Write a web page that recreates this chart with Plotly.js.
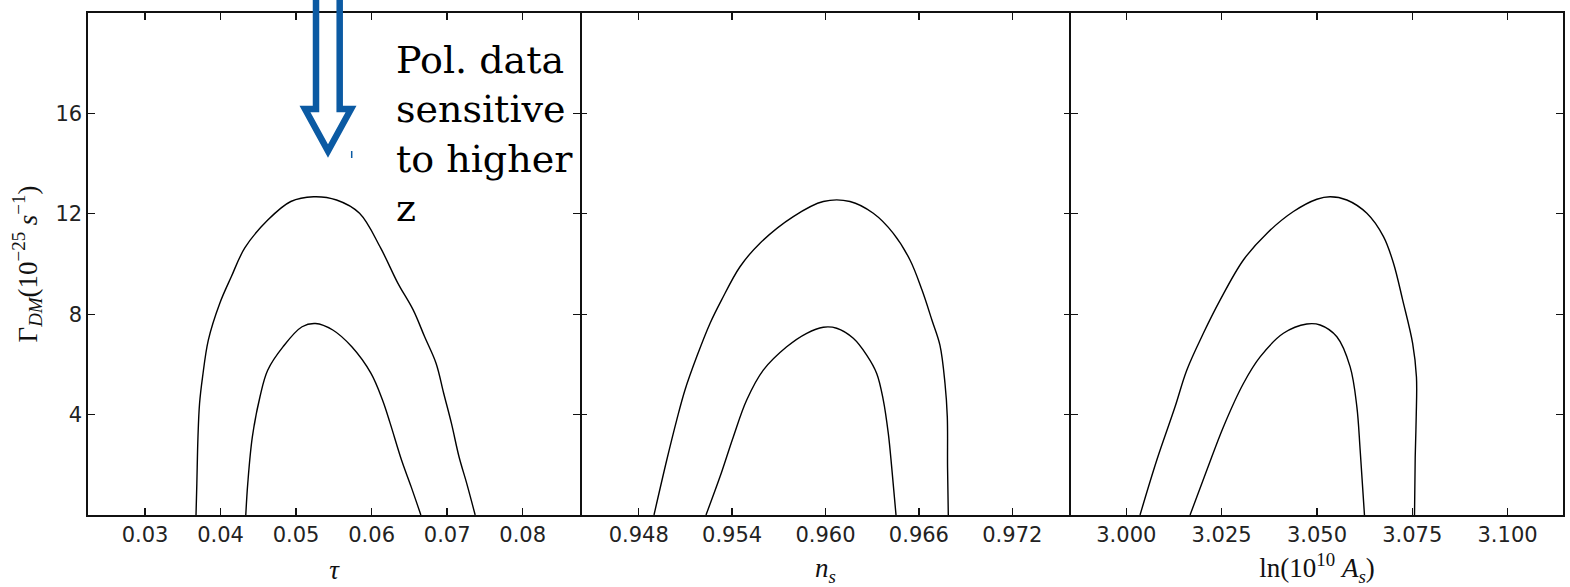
<!DOCTYPE html>
<html>
<head>
<meta charset="utf-8">
<script src="https://cdn.plot.ly/plotly-3.0.1.min.js"></script>
<style>html,body{margin:0;padding:0;background:#fff;}#chart{width:1570px;height:587px;}</style>
</head>
<body>
<div id="chart"></div>
<script>
// ---- Tick values / labels ----
const tauTicks = [0.03, 0.04, 0.05, 0.06, 0.07, 0.08];
const tauTickText = ["0.03", "0.04", "0.05", "0.06", "0.07", "0.08"];
const nsTicks = [0.948, 0.954, 0.960, 0.966, 0.972];
const nsTickText = ["0.948", "0.954", "0.960", "0.966", "0.972"];
const asTicks = [3.000, 3.025, 3.050, 3.075, 3.100];
const asTickText = ["3.000", "3.025", "3.050", "3.075", "3.100"];
const gammaTicks = [4, 8, 12, 16];
const gammaTickText = ["4", "8", "12", "16"];

// ---- Panel 1: tau vs Gamma_DM ----
const tauOuterX = [0.03675, 0.03686, 0.03701, 0.03722, 0.03762, 0.03838, 0.03989, 0.04142, 0.04321, 0.04625, 0.04930, 0.05232, 0.05536, 0.05840, 0.06119, 0.06347, 0.06550, 0.06702, 0.06854, 0.06955, 0.07057, 0.07158, 0.07260, 0.07371];
const tauOuterY = [0, 1.25, 3.11, 4.44, 5.50, 6.97, 8.43, 9.49, 10.64, 11.75, 12.49, 12.68, 12.55, 12.02, 10.64, 9.24, 8.17, 7.10, 6.04, 4.84, 3.65, 2.31, 1.25, 0];
const tauInnerX = [0.04334, 0.04360, 0.04421, 0.04522, 0.04624, 0.04826, 0.05079, 0.05257, 0.05486, 0.05738, 0.05992, 0.06144, 0.06246, 0.06397, 0.06524, 0.06652];
const tauInnerY = [0, 1.25, 3.11, 4.71, 5.77, 6.70, 7.50, 7.63, 7.37, 6.70, 5.64, 4.58, 3.65, 2.18, 1.12, 0];

// ---- Panel 2: n_s vs Gamma_DM ----
const nsOuterX = [0.948983, 0.949799, 0.950441, 0.950974, 0.951726, 0.952580, 0.953319, 0.954507, 0.955792, 0.957931, 0.959858, 0.961573, 0.963070, 0.964355, 0.965428, 0.966200, 0.966840, 0.967354, 0.967676, 0.967824, 0.967840, 0.967888];
const nsOuterY = [0, 2.18, 3.78, 4.98, 6.30, 7.63, 8.56, 9.89, 10.83, 11.89, 12.49, 12.49, 12.02, 11.22, 10.16, 8.96, 7.76, 6.76, 5.24, 3.91, 1.91, 0];
const nsInnerX = [0.952323, 0.953222, 0.954077, 0.954938, 0.956004, 0.957507, 0.958792, 0.959858, 0.960719, 0.961785, 0.962646, 0.963289, 0.963713, 0.964034, 0.964252, 0.964529];
const nsInnerY = [0, 1.52, 3.11, 4.58, 5.77, 6.70, 7.24, 7.48, 7.44, 7.04, 6.37, 5.64, 4.58, 3.25, 1.91, 0];

// ---- Panel 3: ln(10^10 A_s) vs Gamma_DM ----
const asOuterX = [3.003596, 3.007979, 3.012782, 3.015853, 3.020210, 3.024593, 3.030709, 3.036850, 3.043832, 3.049974, 3.053465, 3.057848, 3.063097, 3.067454, 3.070079, 3.072493, 3.075100, 3.076100, 3.076037, 3.075774, 3.075591];
const asOuterY = [0, 2.18, 4.31, 5.77, 7.24, 8.56, 10.16, 11.22, 12.09, 12.58, 12.68, 12.55, 12.02, 11.09, 10.03, 8.56, 6.84, 5.50, 3.91, 2.31, 0];
const asInnerX = [3.016719, 3.021102, 3.025459, 3.030709, 3.035092, 3.041207, 3.047349, 3.050840, 3.055223, 3.058714, 3.060472, 3.061339, 3.062467];
const asInnerY = [0, 1.78, 3.51, 5.24, 6.30, 7.24, 7.61, 7.57, 7.10, 5.90, 4.31, 2.58, 0];

// ---- Layout geometry (pixels) ----
const W = 1570, H = 587;
const M = {l: 88, r: 7, t: 13, b: 72};
const PW = W - M.l - M.r, PH = H - M.t - M.b;
const px = v => (v - M.l) / PW;
const py = v => (H - M.b - v) / PH;
const d1 = px(580), d2 = px(1071);

const lineStyle = {color: '#000', width: 1.4, shape: 'spline', smoothing: 1};
function tr(x, y, xa, ya) {
  return {x: x, y: y, xaxis: xa, yaxis: ya, type: 'scatter', mode: 'lines', line: lineStyle, hoverinfo: 'skip', showlegend: false};
}
const data = [
  tr(tauOuterX, tauOuterY, 'x', 'y'), tr(tauInnerX, tauInnerY, 'x', 'y'),
  tr(nsOuterX, nsOuterY, 'x2', 'y2'), tr(nsInnerX, nsInnerY, 'x2', 'y2'),
  tr(asOuterX, asOuterY, 'x3', 'y3'), tr(asInnerX, asInnerY, 'x3', 'y3')
];

const tickFont = {family: 'DejaVu Sans', size: 21, color: '#222'};
const mathFont = {family: 'Liberation Serif', size: 27, color: '#111'};
function xax(domain, range, vals, text, anchor, title) {
  return {
    domain: domain, range: range, anchor: anchor,
    tickmode: 'array', tickvals: vals, ticktext: text,
    ticks: 'inside', ticklen: 7, tickwidth: 1.3, tickcolor: '#111',
    showline: true, linecolor: '#111', linewidth: 1.6, mirror: 'ticks',
    showgrid: false, zeroline: false, tickfont: tickFont,
    title: {text: title, font: mathFont, standoff: 14}
  };
}
function yax(anchor, showLabels, showLine, title) {
  const a = {
    domain: [0, 1], range: [0, 20], anchor: anchor,
    tickmode: 'array', tickvals: gammaTicks, ticktext: gammaTickText,
    ticks: 'inside', ticklen: 7, tickwidth: 1.3, tickcolor: '#111',
    showline: showLine, linecolor: '#111', linewidth: 1.6, mirror: 'ticks',
    showgrid: false, zeroline: false, tickfont: tickFont,
    showticklabels: showLabels
  };
  if (title) a.title = {text: title, font: mathFont, standoff: 10};
  return a;
}

const blue = '#0b5aa3';
const arrowPts = [[316, -6], [316, 109], [305, 109], [328, 151], [351, 109], [339.7, 109], [339.7, -6]];
const arrowPath = arrowPts.map((p, i) => (i ? 'L' : 'M') + px(p[0]).toFixed(5) + ',' + py(p[1]).toFixed(5)).join(' ');

const layout = {
  width: W, height: H,
  margin: M,
  paper_bgcolor: '#fff', plot_bgcolor: '#fff',
  showlegend: false,
  xaxis: xax([0, d1], [0.02245, 0.08759], tauTicks, tauTickText, 'y', '<i>τ</i>'),
  xaxis2: xax([d1, d2], [0.94423, 0.97577], nsTicks, nsTickText, 'y2', '<i>n</i><sub><i>s</i></sub>'),
  xaxis3: xax([d2, 1], [2.98549, 3.11454], asTicks, asTickText, 'y3', 'ln(10<sup>10</sup> <i>A</i><sub><i>s</i></sub>)'),
  yaxis: yax('x', true, true, 'Γ<sub><i>DM</i></sub>(10<sup>−25</sup> <i>s</i><sup>−1</sup>)'),
  yaxis2: yax('x2', false, false),
  yaxis3: yax('x3', false, true),
  shapes: [
    {type: 'path', xref: 'paper', yref: 'paper', path: arrowPath, line: {color: blue, width: 6.5}, fillcolor: 'rgba(0,0,0,0)'},
    {type: 'line', xref: 'paper', yref: 'paper', x0: px(351.7), x1: px(351.7), y0: py(151), y1: py(158), line: {color: blue, width: 1.5}}
  ],
  annotations: [
    {xref: 'paper', yref: 'paper', x: px(394), y: py(36), xanchor: 'left', yanchor: 'top', align: 'left', showarrow: false,
     text: 'Pol. data<br>sensitive<br>to higher<br>z', font: {family: 'DejaVu Serif', size: 38, color: '#000'}}
  ]
};

Plotly.newPlot('chart', data, layout, {displayModeBar: false, staticPlot: true});
</script>
</body>
</html>
